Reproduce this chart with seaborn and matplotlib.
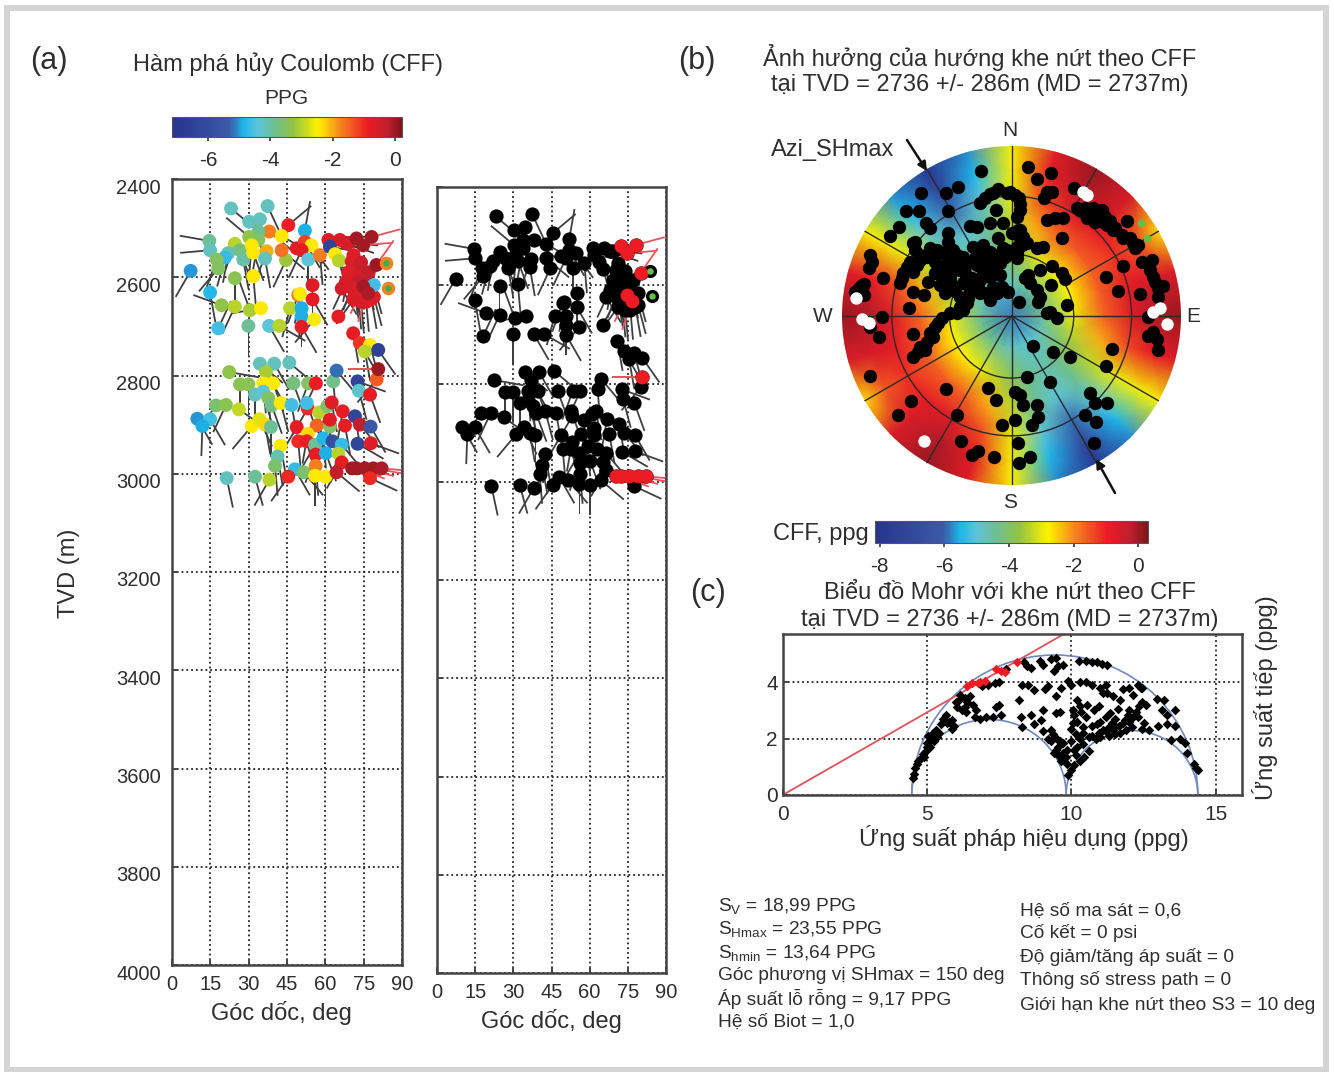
import numpy as np
import pandas as pd
import seaborn as sns
import matplotlib
matplotlib.use('Agg')
from matplotlib import pyplot as plt
from matplotlib.cm import ScalarMappable
from matplotlib.colors import LinearSegmentedColormap, Normalize
from matplotlib.patches import Arc, Circle, FancyArrowPatch, Rectangle
from matplotlib.transforms import ScaledTranslation

W, H = 1334, 1072

# ---- khe nut: goc doc, TVD, CFF, huong duoi
dip_upper = [23.1, 37.4, 30.2, 34.4, 45.5, 38.1, 42.9, 52.0, 33.8, 30.2, 33.8, 14.6, 14.9, 24.6, 26.6, 22.0,
             20.7, 17.5, 18.1, 7.3, 27.9, 31.2, 31.8, 37.0, 36.4, 44.6, 42.9, 48.8, 52.0, 54.6, 50.7, 53.3,
             57.9, 61.2, 65.7, 61.8, 63.8, 65.3, 70.3, 73.5, 69.0,
             68.0, 71.0, 74.0, 71.0, 69.0, 72.0, 77.0, 76.0, 73.0, 68.0, 71.0, 73.0,
             76.0, 78.0, 79.0,
             78.1, 72.2, 74.8, 80.0,
             31.8, 24.6, 14.9, 19.4, 24.6, 30.5, 34.8, 18.1, 29.9, 38.0, 42.0, 46.2, 49.4, 50.1, 55.0, 55.0,
             50.7, 50.7, 55.7, 50.7, 65.1, 70.9, 79.0, 66.4, 69.6, 71.0, 74.0, 74.8, 76.8,
             73.5, 77.5, 75.5, 80.7]
tvd_upper = [2460, 2455, 2487, 2482, 2494, 2507, 2516, 2505, 2507, 2518, 2524, 2526, 2545, 2532, 2545, 2551,
             2560, 2564, 2582, 2587, 2564, 2535, 2550, 2547, 2562, 2565, 2545, 2541, 2528, 2535, 2545, 2564,
             2555, 2524, 2524, 2538, 2553, 2566, 2568, 2582, 2530,
             2530, 2555, 2570, 2610, 2590, 2600, 2590, 2608, 2610, 2610, 2625, 2645,
             2650, 2645, 2640,
             2518, 2521, 2535, 2575,
             2598, 2602, 2631, 2657, 2660, 2667, 2663, 2704, 2699, 2699, 2699, 2663, 2636, 2634, 2616, 2645,
             2663, 2680, 2686, 2701, 2680, 2714, 2616, 2623, 2619, 2645, 2650, 2619, 2633,
             2734, 2738, 2751, 2748]
cff_upper = [-4.2, -4.2, -4.2, -4.2, -0.9, -1.7, -2.4, -4.9, -3.9, -3.3, -3.5, -3.9, -4.2, -3.0, -3.7, -4.1,
             -4.7, -3.5, -3.5, -5.0, -4.0, -2.4, -2.4, -2.0, -4.2, -3.2, -1.6, -0.8, -1.2, -2.4, -0.8, -4.4,
             -1.7, -0.7, -0.6, -6.4, -2.4, -3.0, -0.6, -0.5, -0.3,
             -0.6, -0.7, -0.4, -0.6, -0.7, -0.6, -0.3, -0.3, -0.3, -0.6, -0.7, -0.7,
             -0.6, -0.8, -0.7,
             -0.05, -0.05, -0.05, 0.0,
             -2.4, -3.4, -4.8, -3.3, -3.0, -3.1, -2.4, -4.6, -3.9, -4.4, -3.0, -3.0, -1.7, -2.4, -0.7, -0.8,
             -4.9, -4.9, -2.4, -0.8, -0.8, -0.8, -4.6, -0.5, -0.6, -0.6, -0.6, -0.05, -0.1,
             -1.1, -2.4, -3.0, -6.5]
azi_upper = [130, 155, 120, 200, 50, 130, 120, 10, 170, 310, 190, 280, 265, 200, 160, 190,
             195, 200, 220, 210, 170, 185, 160, 200, 170, 205, 130, 120, 150, 145, 205, 180,
             175, 105, 100, 100, 150, 165, 165, 150, 95,
             110, 150, 160, 200, 190, 170, 175, 165, 180, 205, 170, 175,
             175, 170, 165,
             75, 270, 85, 35,
             175, 180, 170, 290, 205, 340, 260, 25, 180, 150, 120, 195, 200, 190, 180, 150,
             185, 180, 220, 150, 30, 170, 165, 150, 160, 215, 175, 205, 200,
             150, 165, 170, 145]

dip_lower = [34.4, 40.0, 45.9, 22.4, 36.8, 35.7, 39.6, 26.6, 29.9, 47.5, 53.3, 56.3, 63.1, 64.4, 72.6, 73.1,
             80.1, 80.7, 77.5, 32.5, 35.7, 37.7, 39.0, 42.5, 46.8, 17.2, 21.1, 26.2, 9.9, 14.9, 11.9, 31.2,
             34.2, 36.4, 38.7, 53.1, 52.7, 57.6, 60.8, 62.5, 66.8, 71.6, 73.5, 77.7, 67.7, 61.8, 61.8, 56.6,
             48.8, 53.1, 49.4, 52.7, 56.0, 59.2, 62.8, 66.4, 72.6, 77.8, 42.5, 41.3, 40.3, 56.2, 60.2, 65.1,
             66.4, 56.2, 48.1, 51.6, 45.5, 38.1, 32.5, 21.4, 56.0, 60.1, 64.4, 70.5, 72.2, 75.5, 78.8, 82.0, 77.5]
tvd_lower = [2776, 2776, 2774, 2793, 2793, 2816, 2816, 2818, 2818, 2816, 2816, 2816, 2812, 2790, 2812, 2831,
             2808, 2787, 2839, 2839, 2833, 2846, 2861, 2856, 2860, 2861, 2860, 2869, 2888, 2889, 2903, 2903,
             2889, 2900, 2905, 2867, 2856, 2875, 2862, 2855, 2873, 2883, 2900, 2904, 2902, 2904, 2890, 2902,
             2905, 2919, 2934, 2934, 2941, 2928, 2934, 2941, 2939, 2938, 2943, 2965, 2984, 2961, 2958, 2959,
             2977, 2984, 2991, 2997, 3006, 3012, 3006, 3009, 3004, 3006, 2997, 2989, 2989, 2989, 2989, 2989, 3009]
cff_lower = [-4.2, -4.2, -4.2, -3.3, -3.1, -2.4, -2.4, -3.4, -3.4, -3.7, -3.5, -0.9, -3.8, -5.2, -6.4, -4.3,
             -1.4, 0.0, -0.8, -4.2, -4.4, -3.5, -3.8, -2.4, -4.6, -3.6, -3.4, -2.9, -5.0, -4.6, -4.9, -2.4,
             -2.7, -2.3, -3.9, -1.0, -4.6, -3.0, -3.6, -0.7, -0.8, -6.3, -0.3, -5.5, -0.8, -3.5, -0.7, -1.5,
             -0.8, -2.3, -1.0, -0.9, -3.9, -4.8, -5.8, -4.7, -6.3, -0.7, -2.4, -4.1, -3.6, -0.8, -4.9, -3.0,
             -0.8, -1.7, -4.7, -3.6, -1.0, -3.0, -3.9, -4.2, -2.4, -2.4, -0.3, -0.05, -0.05, -0.05, -0.05, -0.1, -1.0]
azi_lower = [130, 150, 130, 100, 150, 175, 160, 180, 180, 160, 200, 205, 175, 140, 110, 165,
             220, 270, 160, 180, 165, 175, 160, 165, 170, 215, 205, 125, 150, 150, 182, 220,
             155, 170, 180, 210, 160, 175, 195, 170, 190, 170, 140, 150, 170, 180, 195, 165,
             210, 190, 175, 165, 210, 175, 150, 140, 120, 110, 170, 170, 175, 200, 160, 195,
             210, 175, 150, 140, 215, 210, 165, 168, 180, 180, 130, 105, 110, 105, 100, 95, 115]

green_dip = [83.7, 84.6]
green_tvd = [2572, 2621]

# ---- do thi Mohr
mohr_sigma = [4.5, 4.55, 4.6, 4.65, 4.7, 4.8, 4.85, 4.95, 5.0, 5.0, 5.1, 5.15, 5.2, 5.05, 5.3, 5.35,
              5.5, 5.55, 5.65, 5.75, 5.85, 5.95, 6.0, 6.05, 6.1, 6.2, 6.3, 6.4, 6.5, 6.6, 6.15,
              6.65, 6.7, 6.85, 7.05, 7.3, 7.4, 7.5, 7.55, 7.1, 6.9, 7.35, 7.5, 7.75,
              8.3, 8.5, 8.35, 8.45, 8.6, 8.9, 9.0, 9.3, 9.45, 9.4, 9.55, 9.7, 9.2, 9.1, 8.7, 9.65, 9.9, 10.0, 9.45,
              8.25, 8.6, 9.0, 9.45, 9.6, 8.2, 8.3, 8.7, 8.95, 9.0, 9.3, 9.35, 9.5, 9.6, 9.7, 9.45, 9.55, 9.7, 9.4, 9.65, 9.8, 9.85,
              10.0, 9.9, 10.1, 10.3, 10.45, 10.6, 10.2, 10.4, 10.0, 10.3,
              10.6, 10.85, 11.0, 11.3, 11.5, 11.7, 11.9, 12.1, 11.1, 11.3, 10.9, 10.7, 11.5, 11.8, 12.0, 12.3, 12.45, 12.7, 13.0, 13.3, 13.6, 13.3,
              13.15, 12.6, 12.95, 13.2, 13.6, 13.45, 13.75, 13.95, 14.0, 14.25, 14.4, 14.3,
              10.0, 10.05, 10.1, 10.3, 10.35, 10.55, 10.5, 10.8, 10.2, 10.4,
              10.3, 10.5, 10.7, 11.0, 11.2, 11.1, 11.25, 11.45, 11.7, 11.6, 12.15, 12.0, 12.35, 12.45, 12.0, 12.45, 12.25,
              10.25, 10.5, 10.7, 10.9, 11.05, 11.25, 11.8, 12.3, 12.4, 10.95, 11.35, 11.5, 11.95,
              10.7, 10.95, 11.2, 11.45, 11.65, 11.85, 12.15, 12.5, 11.0, 11.2, 11.4, 10.4, 10.15, 9.85, 10.15, 10.1, 9.55, 9.3, 9.2,
              10.05, 10.2, 6.3, 6.35, 5.4, 5.25, 5.1, 4.9, 5.7, 5.85]
mohr_tau = [0.6, 0.75, 0.95, 1.1, 1.2, 1.3, 1.45, 1.55, 1.7, 1.85, 1.95, 2.05, 2.2, 2.1, 2.3, 2.05,
            2.5, 2.7, 2.85, 2.6, 2.35, 2.45, 3.3, 3.1, 3.35, 3.0, 3.45, 3.3, 3.5, 3.2, 3.55,
            2.75, 3.0, 2.7, 2.75, 2.75, 3.1, 3.2, 2.85, 3.9, 3.85, 3.95, 4.0, 4.45,
            3.9, 3.9, 4.7, 4.55, 4.5, 4.75, 4.6, 4.8, 4.85, 4.4, 4.55, 4.6, 3.85, 3.75, 3.7, 3.8, 4.05, 3.9, 3.5,
            2.75, 2.85, 3.0, 2.9, 2.95, 3.35, 2.4, 2.5, 2.65, 2.25, 2.3, 2.15, 2.0, 1.9, 1.85, 1.6, 1.4, 1.5, 1.5, 1.2, 1.35, 1.6,
            0.9, 0.7, 1.05, 1.2, 1.35, 1.55, 1.7, 1.8, 1.9, 2.0,
            2.05, 2.0, 2.05, 2.1, 2.15, 2.2, 2.3, 2.4, 2.3, 2.4, 2.5, 2.45, 2.45, 2.55, 2.6, 2.75, 2.35, 2.3, 2.45, 2.5, 2.45, 2.85,
            3.0, 3.2, 3.4, 3.35, 3.0, 1.95, 2.0, 1.85, 1.5, 1.1, 0.9, 0.95,
            2.35, 2.55, 2.85, 3.15, 2.95, 3.2, 2.75, 3.0, 2.6, 2.4,
            4.0, 4.0, 3.9, 3.8, 3.9, 3.6, 3.6, 3.5, 3.35, 3.05, 3.55, 3.0, 3.15, 3.8, 3.8, 3.3, 2.95,
            4.75, 4.75, 4.7, 4.7, 4.65, 4.6, 3.75, 3.9, 3.8, 3.15, 2.9, 2.7, 2.85,
            2.1, 2.2, 2.25, 2.3, 2.45, 2.65, 2.75, 2.55, 2.6, 2.75, 2.55, 2.2, 2.15, 1.1, 1.4, 1.6, 1.7, 1.9, 2.0,
            3.0, 3.35, 3.1, 2.95, 2.2, 1.9, 1.7, 1.35, 2.55, 2.65]
mohr_red_sigma = [6.4, 6.55, 6.75, 6.85, 7.0, 7.4, 7.55, 7.7, 8.1]
mohr_red_tau = [3.85, 3.95, 3.95, 4.0, 4.05, 4.45, 4.4, 4.35, 4.7]
sigma_3, sigma_2, sigma_1 = 4.47, 9.82, 14.38
failure_slope = 0.585

# ---- luoi CFF tren luoi chieu: hang = goc doc 0..90, cot = lech 0..90 so voi SHmax
net_radii = [0, 0.185, 0.366, 0.541, 0.707, 0.861, 1.012]
cff_table = [[-5.89, -5.89, -5.89, -5.89, -5.89, -5.89, -5.89],
             [-4.93, -4.88, -4.74, -4.58, -4.45, -4.36, -4.34],
             [-4.60, -4.38, -3.87, -3.35, -2.98, -2.81, -2.77],
             [-4.98, -4.43, -3.30, -2.26, -1.67, -1.56, -1.62],
             [-5.97, -4.93, -3.00, -1.41, -0.68, -0.83, -1.17],
             [-7.30, -5.48, -2.88, -0.88, -0.07, -0.61, -1.57],
             [-8.63, -5.75, -2.84, -0.70, 0.10, -0.60, -2.68]]
shmax_azi = 150

# diem cuc, doc tu anh (don vi: 509 = ban kinh luoi, tam 575, 558)
pole_px = [625, 650, 693, 680, 672, 695, 762, 770, 795, 820, 845, 800, 825, 850, 870, 920, 885, 905, 930, 945, 855, 680, 705, 730, 725,
           965, 995, 910, 990, 1005, 1030, 1015, 960, 858, 895, 985, 985, 1010, 1015, 877, 858,
           810, 825, 862, 795, 828, 823, 750, 700, 640, 690, 622,
           503, 527, 585, 600, 610, 650, 653, 635, 585, 545, 410, 593, 630, 597, 522, 475, 455, 423,
           378, 272, 235, 150,
           150, 155, 145, 190, 130, 115, 130, 185, 150, 178, 268, 280, 280, 295, 315, 320, 340, 345, 365, 410, 430, 445, 460, 510, 500, 530, 565, 597, 655, 680, 710, 740, 690,
           483, 415, 378, 303, 258, 297, 383, 318, 330, 238, 210, 285, 385, 385, 400,
           510, 535, 570, 598, 600, 527, 480, 450, 470, 510, 550, 595, 610, 535, 605, 590, 650, 670,
           330, 350, 370, 385, 410, 430, 460, 490, 510, 530, 555, 590, 500, 520, 540, 490, 400, 420, 345, 370, 390, 435, 475, 540, 510, 490, 360, 375, 405, 280, 285, 270, 290, 250, 240, 325, 280, 313,
           625, 615, 660, 695, 725, 735, 630, 650, 660, 693,
           300, 320, 345, 365, 385, 405, 440, 465, 480, 470, 505, 525, 550, 575, 280, 260, 245, 300,
           430, 450, 420, 480, 520, 545, 455, 480, 395,
           560, 585, 600, 590, 520, 495, 575, 600, 600, 620, 590, 560,
           125, 105, 300, 330, 355, 390, 420, 440,
           1000, 1015, 1000, 780, 810, 835, 860, 880, 910, 940, 955]
pole_py = [110, 148, 128, 185, 205, 185, 175, 235, 235, 235, 240, 265, 275, 275, 272, 273, 295, 315, 325, 355, 260, 270, 265, 265, 323,
           395, 390, 408, 420, 455, 468, 500, 493, 440, 482, 560, 618, 628, 660, 658, 708,
           790, 820, 820, 855, 875, 938, 680, 665, 648, 755, 742,
           775, 810, 785, 795, 825, 825, 860, 885, 870, 885, 855, 938, 980, 998, 980, 962, 975, 932,
           778, 812, 855, 737,
           375, 395, 415, 445, 462, 475, 495, 562, 592, 620, 535, 612, 682, 665, 660, 635, 620, 590, 565, 548, 540, 505, 470, 510, 490, 490, 485, 517, 515, 550, 565, 525, 545,
           122, 170, 188, 188, 243, 243, 243, 278, 295, 292, 317, 335, 310, 335, 360,
           193, 178, 185, 205, 240, 240, 218, 288, 290, 280, 278, 300, 320, 325, 345, 370, 355, 352,
           355, 360, 370, 385, 375, 380, 350, 345, 365, 375, 380, 385, 395, 410, 400, 410, 410, 420, 430, 440, 440, 430, 470, 435, 440, 430, 465, 490, 482, 340, 360, 395, 405, 430, 460, 455, 485, 495,
           435, 445, 420, 408, 430, 448, 460, 480, 500, 465,
           375, 380, 395, 410, 410, 395, 400, 385, 370, 405, 420, 395, 355, 365, 425, 410, 445, 390,
           460, 480, 500, 490, 470, 470, 445, 450, 465,
           190, 195, 222, 260, 190, 205, 310, 325, 300, 340, 350, 360,
           465, 485, 650, 610, 580, 550, 530, 520,
           440, 475, 605, 240, 255, 260, 285, 300, 325, 340, 345]
white_px = [790, 800, 107, 125, 145, 1020, 1000, 1040, 312]
white_py = [185, 195, 505, 568, 578, 535, 545, 582, 932]
green_px = [962, 980]
green_py = [278, 325]
NET_X0, NET_Y0, NET_R = 575, 558, 509

left_notes = ['S$_{\\mathrm{V}}$ = 18,99 PPG', 'S$_{\\mathrm{Hmax}}$ = 23,55 PPG', 'S$_{\\mathrm{hmin}}$ = 13,64 PPG',
              'Góc phương vị SHmax = 150 deg', 'Áp suất lỗ rỗng = 9,17 PPG', 'Hệ số Biot = 1,0']
right_notes = ['Hệ số ma sát = 0,6', 'Cố kết = 0 psi', 'Độ giảm/tăng áp suất = 0',
               'Thông số stress path = 0', 'Giới hạn khe nứt theo S3 = 10 deg']

sns.set_theme(style='ticks')
plt.rcParams['font.family'] = ['Liberation Sans', 'DejaVu Sans']
plt.rcParams['mathtext.fontset'] = 'custom'
plt.rcParams['mathtext.rm'] = 'Liberation Sans'
plt.rcParams['mathtext.default'] = 'rm'
plt.rcParams['axes.unicode_minus'] = False

INK = '#2e2e2e'
cff_cmap = LinearSegmentedColormap.from_list('cff', [
    (0.0, '#27348f'), (0.25, '#3b5ba6'), (0.31, '#1cb5ea'), (0.37, '#5cc4dc'), (0.445, '#6dbf90'),
    (0.53, '#94c341'), (0.635, '#fff200'), (0.735, '#f58220'), (0.85, '#ed1c24'), (0.94, '#be1e2d'),
    (1.0, '#7f1416')])
norm_a = Normalize(-7.15, 0.22)
norm_b = Normalize(-8.15, 0.30)

df = pd.DataFrame({'dip': dip_upper + dip_lower, 'tvd': tvd_upper + tvd_lower,
                   'cff': cff_upper + cff_lower, 'azi': azi_upper + azi_lower})
df['critical'] = df['cff'] >= -0.12
crit = df[df['critical']]


def fx(x):
    return x / W


def fy(y):
    return 1 - y / H


def axes_px(fig, left, top, right, bottom):
    return fig.add_axes([fx(left), fy(bottom), (right - left) / W, (bottom - top) / H])


def style_frame(ax, size=14.5):
    for spine in ax.spines.values():
        spine.set_color('#444444')
        spine.set_linewidth(1.8)
    ax.tick_params(direction='in', length=4, width=1.4, color='#444444', labelsize=size, labelcolor=INK)
    ax.grid(True, linestyle=':', color='#222222', linewidth=1.3)
    ax.set_axisbelow(True)
    ax.set_xlabel('')
    ax.set_ylabel('')


def draw_tails(ax, frame, color, length=30):
    theta = np.deg2rad(frame['azi'].to_numpy(dtype=float))
    ax.quiver(frame['dip'], frame['tvd'], length * np.sin(theta), length * np.cos(theta),
              angles='uv', units='dots', scale_units='dots', scale=1, width=1.8,
              headwidth=1, headlength=0, headaxislength=0, color=color, zorder=2)


def tadpole_axes(ax):
    ax.set_xlim(0, 90)
    ax.set_ylim(4000, 2400)
    ax.set_xticks(np.arange(0, 91, 15))
    ax.set_yticks(np.arange(2400, 4001, 200))


def colorbar_px(fig, box, norm, ticks):
    cax = axes_px(fig, *box)
    cb = fig.colorbar(ScalarMappable(norm=norm, cmap=cff_cmap), cax=cax, orientation='horizontal')
    cb.set_ticks(ticks)
    cb.ax.tick_params(length=3, width=1.2, color='#333333', labelsize=15, labelcolor=INK, pad=7)
    cb.outline.set_linewidth(0.8)
    cb.outline.set_edgecolor('#555555')
    return cb


fig = plt.figure(figsize=(W / 100, H / 100), dpi=100, facecolor='white')
fig.patches.append(Rectangle((fx(7), fy(1070)), (1326 - 7) / W, (1070 - 8) / H, transform=fig.transFigure,
                             fill=False, edgecolor='#d4d4d4', linewidth=4.3, figure=fig))

# ---- (a) trai: to mau theo CFF
ax_a = axes_px(fig, 172, 179, 402, 965)
tadpole_axes(ax_a)
draw_tails(ax_a, df[~df['critical']], '#3f3f3f')
draw_tails(ax_a, crit, '#e8545a')
sns.scatterplot(data=df, x='dip', y='tvd', hue='cff', palette=cff_cmap, hue_norm=norm_a, s=100,
                linewidth=0, legend=False, ax=ax_a, zorder=3)
sns.scatterplot(x=green_dip, y=green_tvd, color='#f58220', s=95, linewidth=0, ax=ax_a, zorder=3)
sns.scatterplot(x=green_dip, y=green_tvd, color='#3fae49', s=22, linewidth=0, ax=ax_a, zorder=4)
style_frame(ax_a)
ax_a.tick_params(axis='x', pad=7)
ax_a.tick_params(axis='y', pad=8)
for tick_label in ax_a.get_yticklabels():
    tick_label.set_transform(tick_label.get_transform() + ScaledTranslation(0, -7 / 100, fig.dpi_scale_trans))

# ---- (a) phai: den / do
ax_b = axes_px(fig, 437, 187, 666, 973)
tadpole_axes(ax_b)
draw_tails(ax_b, df[~df['critical']], '#3f3f3f')
draw_tails(ax_b, crit, '#e8545a')
sns.scatterplot(data=df, x='dip', y='tvd', color='black', s=105, linewidth=0, ax=ax_b, zorder=3)
sns.scatterplot(data=crit, x='dip', y='tvd', color='#ed1c24', s=100, linewidth=0, ax=ax_b, zorder=4)
sns.scatterplot(x=green_dip, y=green_tvd, color='black', s=90, linewidth=0, ax=ax_b, zorder=3)
sns.scatterplot(x=green_dip, y=green_tvd, color='#5fc04a', s=22, linewidth=0, ax=ax_b, zorder=4)
style_frame(ax_b)
ax_b.tick_params(axis='x', pad=7)
ax_b.tick_params(axis='y', labelleft=False)

colorbar_px(fig, (172, 117, 402, 137), norm_a, [-6, -4, -2, 0])

# ---- (b) luoi chieu
ax_net = axes_px(fig, 1011.7 - 169.5, 316 - 169.5, 1011.7 + 169.5, 316 + 169.5)
ax_net.set_xlim(-1, 1)
ax_net.set_ylim(-1, 1)
ax_net.set_aspect('equal')
ax_net.axis('off')

half = np.asarray(cff_table)
half = np.hstack([half, half[:, -2:0:-1]])
grid_cff = np.hstack([half, half, half[:, :1]])
grid_azi = np.deg2rad(shmax_azi + 15 * np.arange(grid_cff.shape[1]))
rr, aa = np.meshgrid(net_radii, grid_azi, indexing='ij')
mesh = ax_net.pcolormesh(rr * np.sin(aa), rr * np.cos(aa), grid_cff, shading='gouraud', cmap=cff_cmap, norm=norm_b)
mesh.set_clip_path(Circle((0, 0), 1, transform=ax_net.transData))

for radius in (0.366, 0.707):
    ax_net.add_patch(Circle((0, 0), radius, fill=False, edgecolor='#2a2a2a', linewidth=1, zorder=2))
for azi, start in [(0, 0), (90, 0), (180, 0), (270, 0), (120, 0), (150, 0), (210, 0), (240, 0),
                   (30, 0.707), (60, 0.366), (300, 0.707), (330, 0.366)]:
    t = np.deg2rad(azi)
    ax_net.plot([start * np.sin(t), np.sin(t)], [start * np.cos(t), np.cos(t)], color='#2a2a2a', lw=1, zorder=2)

pole_x = (np.array(pole_px) - NET_X0) / NET_R
pole_y = (NET_Y0 - np.array(pole_py)) / NET_R
sns.scatterplot(x=pole_x, y=pole_y, color='black', s=92, linewidth=0, ax=ax_net, zorder=3, clip_on=False)
sns.scatterplot(x=(np.array(white_px) - NET_X0) / NET_R, y=(NET_Y0 - np.array(white_py)) / NET_R,
                color='white', s=80, linewidth=0, ax=ax_net, zorder=4, clip_on=False)
sns.scatterplot(x=(np.array(green_px) - NET_X0) / NET_R, y=(NET_Y0 - np.array(green_py)) / NET_R,
                color='#5fc04a', s=30, linewidth=0, ax=ax_net, zorder=4, clip_on=False)
ax_net.set_xlabel('')
ax_net.set_ylabel('')

for start, end in [((907, 140), (927, 171)), ((1115, 493), (1096, 459))]:
    fig.add_artist(FancyArrowPatch((fx(start[0]), fy(start[1])), (fx(end[0]), fy(end[1])), transform=fig.transFigure,
                                   arrowstyle='-|>', mutation_scale=13, color='#111111', linewidth=1.8,
                                   shrinkA=0, shrinkB=0))

colorbar_px(fig, (875, 521, 1148, 543), norm_b, [-8, -6, -4, -2, 0])

# ---- (c) Mohr
ax_m = axes_px(fig, 782.7, 634, 1241.7, 795)
ax_m.set_xlim(0, 15.9)
ax_m.set_ylim(0, 5.7)
ax_m.set_xticks([0, 5, 10, 15])
ax_m.set_yticks([0, 2, 4])
for low, high in [(sigma_3, sigma_1), (sigma_3, sigma_2), (sigma_2, sigma_1)]:
    ax_m.add_patch(Arc(((low + high) / 2, 0), high - low, high - low, theta1=0, theta2=180,
                       edgecolor='#7088c0', linewidth=1.2, zorder=2))
ax_m.axline((0, 0), slope=failure_slope, color='#e0525a', linewidth=1.3, zorder=2)
sns.scatterplot(x=mohr_sigma, y=mohr_tau, color='black', marker='D', s=24, linewidth=0, ax=ax_m, zorder=3)
sns.scatterplot(x=mohr_red_sigma, y=mohr_red_tau, color='#ed1c24', marker='D', s=24, linewidth=0, ax=ax_m, zorder=4)
style_frame(ax_m, 15)
ax_m.tick_params(axis='x', pad=7)


def label(x, y, text, size=17, **kw):
    kw.setdefault('ha', 'center')
    kw.setdefault('va', 'center')
    fig.text(fx(x), fy(y), text, fontsize=size, color=INK, **kw)


label(49, 61, '(a)', 22)
label(697, 61, '(b)', 22)
label(708, 593, '(c)', 22)
label(288, 64, 'Hàm phá hủy Coulomb (CFF)')
label(286, 99, 'PPG', 15)
label(980, 57, 'Ảnh hưởng của hướng khe nứt theo CFF')
label(980, 85, 'tại TVD = 2736 +/- 286m (MD = 2737m)')
label(1010, 593, 'Biểu đồ Mohr với khe nứt theo CFF')
label(1010, 620, 'tại TVD = 2736 +/- 286m (MD = 2737m)')
label(69, 573, 'TVD (m)', 17, rotation=90)
label(281, 1013, 'Góc dốc, deg', 17)
label(551, 1021, 'Góc dốc, deg', 17)
label(1265, 698, 'Ứng suất tiếp (ppg)', 17, rotation=90)
label(1024, 838, 'Ứng suất pháp hiệu dụng (ppg)', 17)
label(833, 150, 'Azi_SHmax', 17)
label(821, 534, 'CFF, ppg', 17)
label(1010, 130, 'N', 15)
label(1010, 502, 'S', 15)
label(823, 316, 'W', 15)
label(1193, 316, 'E', 15)

for y, note in zip([906, 929, 953, 976, 999, 1022], left_notes):
    label(718, y, note, 13.8, ha='left')
for y, note in zip([911, 933, 957, 980, 1005], right_notes):
    label(1020, y, note, 13.8, ha='left')

fig.savefig('out.png', dpi=100)
plt.close(fig)
